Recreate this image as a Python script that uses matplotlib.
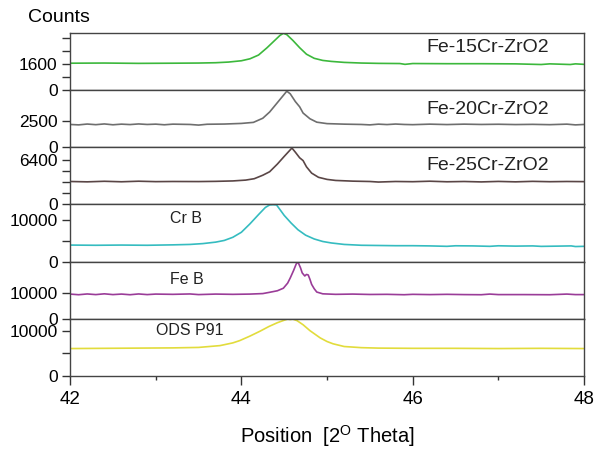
import matplotlib
matplotlib.use("Agg")
from matplotlib import pyplot as plt

plt.rcParams['font.family'] = ['Liberation Sans', 'DejaVu Sans']

# 2theta / counts, one trace per sample
fe15_x = [42.0, 42.4, 42.8, 43.2, 43.5, 43.7, 43.85, 44.0, 44.1, 44.2, 44.3, 44.38,
          44.45, 44.49, 44.53, 44.6, 44.68, 44.76, 44.85, 44.95, 45.05, 45.2, 45.4,
          45.6, 45.85, 45.91, 46.0, 46.4, 46.8, 47.2, 47.5, 47.6, 47.84, 47.9, 48.0]
fe15_y = [1650, 1660, 1640, 1650, 1660, 1680, 1720, 1800, 1920, 2150, 2600, 3000,
          3350, 3480, 3400, 3050, 2600, 2200, 1950, 1820, 1760, 1700, 1660,
          1640, 1630, 1580, 1630, 1620, 1620, 1610, 1570, 1610, 1570, 1610, 1580]

fe20_x = [42.0, 42.1, 42.2, 42.3, 42.4, 42.5, 42.6, 42.7, 42.8, 42.9, 43.0, 43.1,
          43.2, 43.4, 43.5, 43.6, 43.8, 44.0, 44.14, 44.25, 44.33, 44.43, 44.5,
          44.53, 44.57, 44.63, 44.68, 44.72, 44.8, 44.88, 45.0, 45.2, 45.4, 45.5,
          45.6, 45.7, 45.8, 45.9, 46.0, 46.2, 46.4, 46.6, 46.8, 47.0, 47.2, 47.4,
          47.6, 47.8, 47.9, 48.0]
fe20_y = [2200, 2160, 2240, 2180, 2250, 2170, 2230, 2190, 2250, 2200, 2230, 2170,
          2230, 2200, 2140, 2220, 2240, 2300, 2400, 2800, 3400, 4400, 5100,
          5400, 5150, 4400, 3900, 3300, 2750, 2420, 2280, 2230, 2200, 2160,
          2230, 2190, 2240, 2200, 2180, 2230, 2190, 2230, 2200, 2220, 2190, 2210,
          2180, 2230, 2160, 2200]

fe25_x = [42.0, 42.2, 42.4, 42.6, 42.8, 43.0, 43.2, 43.5, 43.7, 43.9, 44.05, 44.15,
          44.25, 44.33, 44.42, 44.5, 44.56, 44.59, 44.63, 44.68, 44.72, 44.76, 44.82,
          44.9, 45.0, 45.1, 45.3, 45.5, 45.6, 45.8, 46.0, 46.2, 46.4, 46.6, 46.8,
          47.0, 47.2, 47.4, 47.6, 47.8, 48.0]
fe25_y = [3300, 3250, 3330, 3260, 3340, 3280, 3300, 3290, 3320, 3380, 3500, 3700,
          4200, 4700, 5800, 6900, 7700, 8100, 7500, 6700, 6300, 5400, 4500,
          3900, 3600, 3450, 3350, 3300, 3220, 3300, 3270, 3340, 3260, 3300, 3240,
          3310, 3250, 3320, 3270, 3300, 3280]

crb_x = [42.0, 42.3, 42.6, 42.9, 43.2, 43.4, 43.55, 43.7, 43.8, 43.9, 44.0, 44.1,
         44.2, 44.28, 44.33, 44.37, 44.41, 44.45, 44.5, 44.58, 44.66, 44.75, 44.85,
         44.95, 45.05, 45.2, 45.4, 45.6, 45.8, 46.0, 46.2, 46.4, 46.5, 46.7, 46.9,
         47.0, 47.2, 47.4, 47.5, 47.7, 47.85, 47.9, 48.0]
crb_y = [3950, 3900, 3950, 3900, 4000, 4100, 4300, 4650, 5050, 5800, 7000, 9000,
         11200, 12900, 13500, 13550, 13500, 12400, 11000, 9200, 7600, 6300, 5400,
         4800, 4450, 4100, 3900, 3850, 3800, 3800, 3750, 3650, 3780, 3750, 3650,
         3780, 3700, 3750, 3640, 3700, 3750, 3600, 3650]

feb_x = [42.0, 42.1, 42.2, 42.3, 42.4, 42.5, 42.6, 42.7, 42.8, 42.9, 43.0, 43.2,
         43.4, 43.5, 43.7, 43.9, 44.1, 44.25, 44.33, 44.42, 44.49, 44.54, 44.57,
         44.61, 44.64, 44.66, 44.69, 44.71, 44.74, 44.76, 44.78, 44.8, 44.82, 44.85,
         44.88, 44.95, 45.1, 45.3, 45.5, 45.7, 45.9, 46.0, 46.2, 46.4, 46.6, 46.8,
         46.9, 47.0, 47.3, 47.6, 47.8, 47.9, 48.0]
feb_y = [9700, 9450, 9750, 9500, 9800, 9500, 9700, 9450, 9750, 9500, 9700, 9600,
         9750, 9500, 9700, 9600, 9700, 9900, 10400, 11000, 12000, 14000, 16000,
         19000, 21500, 22300, 20000, 18000, 16800, 17400, 17200, 15500, 13500, 11800,
         10500, 9800, 9600, 9700, 9550, 9600, 9450, 9600, 9500, 9600, 9500, 9450,
         9700, 9500, 9500, 9450, 9700, 9500, 9500]

ods_x = [42.0, 42.4, 42.8, 43.2, 43.5, 43.75, 43.9, 43.98, 44.1, 44.22, 44.32, 44.42,
         44.5, 44.54, 44.57, 44.6, 44.65, 44.72, 44.8, 44.92, 45.0, 45.07, 45.2,
         45.4, 45.6, 46.0, 46.5, 47.0, 47.5, 48.0]
ods_y = [6050, 6100, 6150, 6200, 6300, 6700, 7300, 7800, 8800, 9900, 10900, 11750,
         12300, 12550, 12450, 12550, 12200, 11300, 10000, 8400, 7600, 7100, 6500,
         6250, 6150, 6100, 6100, 6050, 6100, 6050]

names = ['Fe-15Cr-ZrO2', 'Fe-20Cr-ZrO2', 'Fe-25Cr-ZrO2', 'Cr B', 'Fe B', 'ODS P91']
xs = [fe15_x, fe20_x, fe25_x, crb_x, feb_x, ods_x]
ys = [fe15_y, fe20_y, fe25_y, crb_y, feb_y, ods_y]

# y range and ticks of each panel (only two are labelled, like the original)
ytops = [3500, 5500, 8200, 13600, 22400, 12600]
yticks = [[0, 800, 1600, 2400, 3200], [0, 2500], [0, 1600, 3200, 4800, 6400],
          [0, 5000, 10000], [0, 10000], [0, 5000, 10000]]
ylabels = [['0', '', '1600', '', ''], ['0', '2500'], ['0', '', '', '', '6400'],
           ['0', '', '10000'], ['0', '10000'], ['0', '', '10000']]

colors = ['#3cb83c', '#6e6e6e', '#5a4646', '#35bcc0', '#9a3c98', '#e2dc3c']
label_pos = [(0.693, 0.74), (0.693, 0.667), (0.693, 0.684),
             (0.195, 0.754), (0.195, 0.696), (0.167, 0.79)]

fig = plt.figure(figsize=(5.99, 4.55), dpi=100)
gs = fig.add_gridspec(6, 1, left=0.117, right=0.975, top=0.9275, bottom=0.1736, hspace=0)

for i in range(6):
    ax = fig.add_subplot(gs[i, 0])
    ax.plot(xs[i], ys[i], c=colors[i], lw=1.2)
    ax.set_xlim(42, 48)
    ax.set_ylim(0, ytops[i])
    ax.set_yticks(yticks[i])
    ax.set_yticklabels(ylabels[i])
    ax.tick_params(axis='y', direction='out', length=6, width=1, pad=3,
                   labelsize=12.5, color='#333333')
    for s in ax.spines.values():
        s.set_color('#444444')
        s.set_linewidth(1.0)

    ax.text(label_pos[i][0], label_pos[i][1], names[i], transform=ax.transAxes,
            fontsize=14 if i < 3 else 11.5, va='center', ha='left', color='#222222')

    if i < 5:
        ax.tick_params(axis='x', bottom=False, labelbottom=False)
    else:
        ax.set_xticks([42, 44, 46, 48])
        ax.set_xticks([43, 45, 47], minor=True)
        ax.tick_params(axis='x', which='major', length=6.5, width=1, labelsize=13.5,
                       pad=4, color='#333333')
        ax.tick_params(axis='x', which='minor', length=3.2, width=1, color='#333333')
        ax.set_xlabel('Position  [2$^{\\mathregular{O}}$ Theta]', fontsize=14.5, labelpad=11)

fig.text(28 / 599, 1 - 17 / 455, 'Counts', fontsize=14, va='center', ha='left')

plt.savefig('out.png', dpi=100)
